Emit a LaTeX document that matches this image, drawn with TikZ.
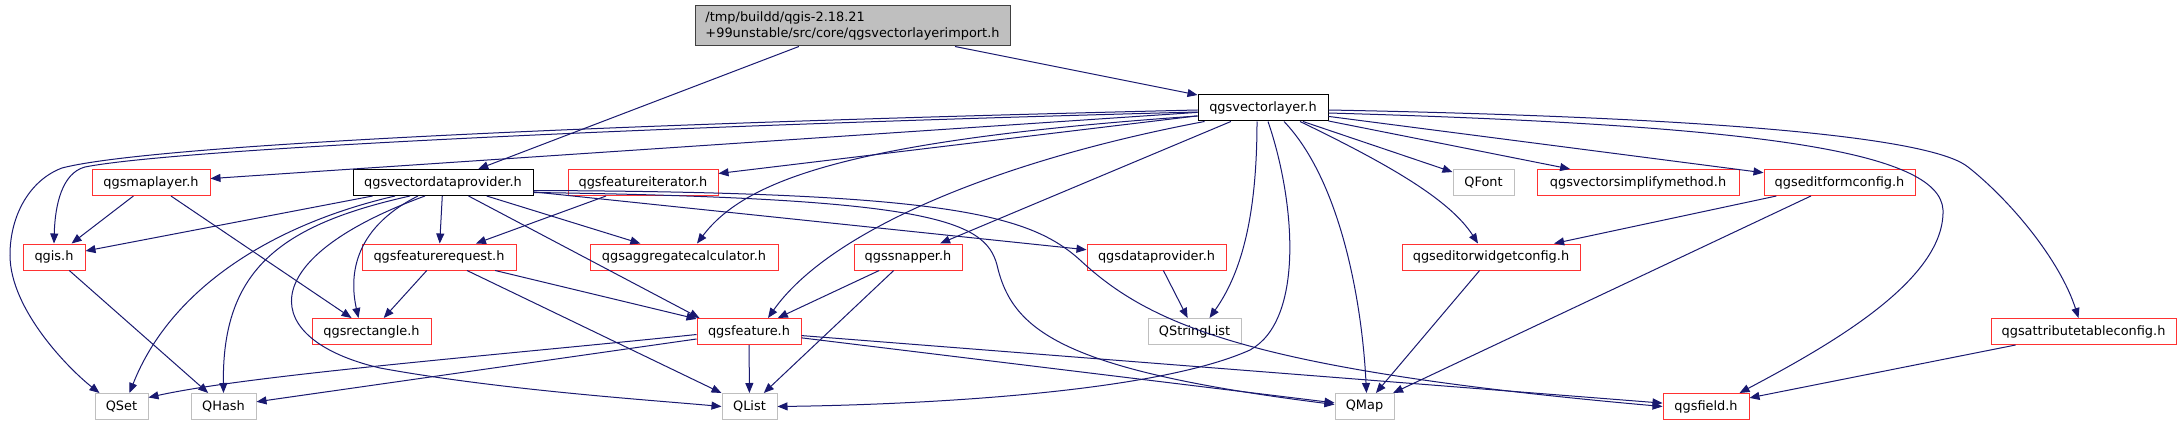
\documentclass[tikz,border=0pt]{standalone}
\usepackage{fontspec}
\setmainfont{DejaVu Sans}
\usetikzlibrary{arrows.meta,calc}
\definecolor{edgeblue}{RGB}{25,25,112}
\definecolor{topfill}{RGB}{191,191,191}
\definecolor{greyline}{RGB}{191,191,191}
\definecolor{redline}{RGB}{255,50,50}
\begin{document}
\begin{tikzpicture}[x=1pt,y=-1pt,
  box/.style={draw, rectangle, minimum height=26, inner sep=0pt, line width=1pt, fill=white,
              font=\fontsize{12.9}{16}\selectfont},
  redbox/.style={box, draw=redline},
  greybox/.style={box, draw=greyline},
  blackbox/.style={box, draw=black},
  topbox/.style={box, draw=black!75, fill=topfill, minimum height=40, align=left},
  dep/.style={draw=edgeblue, line width=1pt, -{Triangle[length=10pt,width=8pt]}}]
\useasboundingbox[fill=white] (0,0) rectangle (2181,425);
% nodes
\node[topbox, minimum width=315] (top) at (852.5,26) {/tmp/buildd/qgis-2.18.21\\+99unstable/src/core/qgsvectorlayerimport.h};
\node[blackbox, minimum width=130] (vl) at (1263,108) {qgsvectorlayer.h};
\node[redbox, minimum width=118] (maplayer) at (151,182.5) {qgsmaplayer.h};
\node[blackbox, minimum width=180] (vdp) at (443,182.5) {qgsvectordataprovider.h};
\node[redbox, minimum width=150] (fiter) at (643,182.5) {qgsfeatureiterator.h};
\node[greybox, minimum width=61] (qfont) at (1483.5,182.5) {QFont};
\node[redbox, minimum width=202] (vsm) at (1638,182.5) {qgsvectorsimplifymethod.h};
\node[redbox, minimum width=151] (efc) at (1839.5,182.5) {qgseditformconfig.h};
\node[redbox, minimum width=62] (qgis) at (54,257) {qgis.h};
\node[redbox, minimum width=154] (freq) at (439,257) {qgsfeaturerequest.h};
\node[redbox, minimum width=188] (aggr) at (684,257) {qgsaggregatecalculator.h};
\node[redbox, minimum width=108] (snapper) at (908,257) {qgssnapper.h};
\node[redbox, minimum width=139] (dp) at (1156.5,257) {qgsdataprovider.h};
\node[redbox, minimum width=178] (ewc) at (1491,257) {qgseditorwidgetconfig.h};
\node[redbox, minimum width=119] (rect) at (371.5,331.5) {qgsrectangle.h};
\node[redbox, minimum width=104] (feat) at (749,331.5) {qgsfeature.h};
\node[greybox, minimum width=93] (qsl) at (1194.5,331.5) {QStringList};
\node[redbox, minimum width=185] (atc) at (2083.5,331.5) {qgsattributetableconfig.h};
\node[greybox, minimum width=53] (qset) at (121.5,406.5) {QSet};
\node[greybox, minimum width=65] (qhash) at (223.5,406.5) {QHash};
\node[greybox, minimum width=55] (qlist) at (749.5,406.5) {QList};
\node[greybox, minimum width=59] (qmap) at (1364.5,406.5) {QMap};
\node[redbox, minimum width=86] (field) at (1706,406.5) {qgsfield.h};
% edges from top
\draw[dep] (top) -- (vdp);
\draw[dep] (top) -- (vl);
% edges from qgsvectorlayer.h
\draw[dep] ($(vl.west)+(0,2)$) .. controls (600,124) and (150,145) .. (62,168)
   .. controls (30,180) and (10,215) .. (10,255) .. controls (10,310) and (70,370) .. ($(qset.north west)+(5,0)$);
\draw[dep] ($(vl.west)+(0,4)$) .. controls (620,127) and (170,150) .. (85,167)
   .. controls (62,173) and (55,205) .. (qgis.north);
\draw[dep] (vl) -- (maplayer);
\draw[dep] (vl) -- (fiter);
\draw[dep] ($(vl.west)+(0,8)$) .. controls (850,140) and (745,180) .. ($(aggr.north)+(13,0)$);
\draw[dep] ($(vl.south west)+(7,0)$) .. controls (1000,160) and (830,230) .. ($(feat.north)+(19,0)$);
\draw[dep] (vl) -- (snapper);
\draw[dep] ($(vl.south)+(-6,0)$) .. controls (1257,220) and (1240,275) .. ($(qsl.north)+(15,0)$);
\draw[dep] ($(vl.south)+(5,0)$) .. controls (1295,200) and (1305,320) .. (1250,350)
   .. controls (1150,395) and (900,405) .. (qlist.east);
\draw[dep] ($(vl.south)+(21,0)$) .. controls (1340,180) and (1362,300) .. ($(qmap.north)+(2,0)$);
\draw[dep] (vl) -- (qfont);
\draw[dep] (vl) -- (vsm);
\draw[dep] (vl) -- (efc);
\draw[dep] ($(vl.south)+(37,0)$) .. controls (1390,165) and (1450,200) .. ($(ewc.north)+(-13,0)$);
\draw[dep] ($(vl.east)+(0,5)$) .. controls (1750,125) and (1940,150) .. (1943,210)
   .. controls (1945,280) and (1830,345) .. ($(field.north east)+(-10,0)$);
\draw[dep] ($(vl.east)+(0,2)$) .. controls (1750,118) and (1935,140) .. (1968,167)
   .. controls (2010,200) and (2060,260) .. ($(atc.north)+(-5,0)$);
% qgsmaplayer.h
\draw[dep] (maplayer) -- (qgis);
\draw[dep] (maplayer) -- (rect);
% qgsvectordataprovider.h
\draw[dep] (vdp) -- (qgis);
\draw[dep] ($(vdp.south)+(-48,0)$) .. controls (270,225) and (170,290) .. ($(qset.north)+(8,0)$);
\draw[dep] ($(vdp.south)+(-33,0)$) .. controls (280,225) and (222,270) .. (qhash.north);
\draw[dep] ($(vdp.south)+(-25,0)$) .. controls (350,230) and (350,280) .. ($(rect.north)+(-13,0)$);
\draw[dep] ($(vdp.south)+(-18,0)$) .. controls (250,260) and (260,340) .. (380,368)
   .. controls (500,390) and (650,400) .. (qlist.west);
\draw[dep] (vdp) -- (freq);
\draw[dep] (vdp) -- ($(feat.north west)+(3,0)$);
\draw[dep] (vdp) -- (aggr);
\draw[dep] (vdp) -- (dp);
\draw[dep] ($(vdp.east)+(0,10)$) .. controls (930,198) and (985,220) .. (997,265)
   .. controls (1012,330) and (1060,370) .. ($(qmap.west)+(0,-2)$);
\draw[dep] ($(vdp.east)+(0,8)$) .. controls (950,192) and (1030,215) .. (1080,260)
   .. controls (1150,325) and (1250,370) .. (field.west);
% others
\draw[dep] (fiter) -- (freq);
\draw[dep] (efc) -- (ewc);
\draw[dep] (efc) -- (qmap);
\draw[dep] (ewc) -- (qmap);
\draw[dep] (qgis) -- (qhash);
\draw[dep] (freq) -- (rect);
\draw[dep] (freq) -- (feat);
\draw[dep] (freq) -- (qlist);
\draw[dep] (snapper) -- (feat);
\draw[dep] (snapper) -- (qlist);
\draw[dep] (dp) -- (qsl);
\draw[dep] ($(feat.west)+(0,3)$) .. controls (500,355) and (250,375) .. ($(qset.east)+(0,-9)$);
\draw[dep] (feat) -- (qhash);
\draw[dep] (feat) -- (qlist);
\draw[dep] (feat) -- (qmap);
\draw[dep] (feat) -- (field);
\draw[dep] (atc) -- (field);
\end{tikzpicture}
\end{document}
